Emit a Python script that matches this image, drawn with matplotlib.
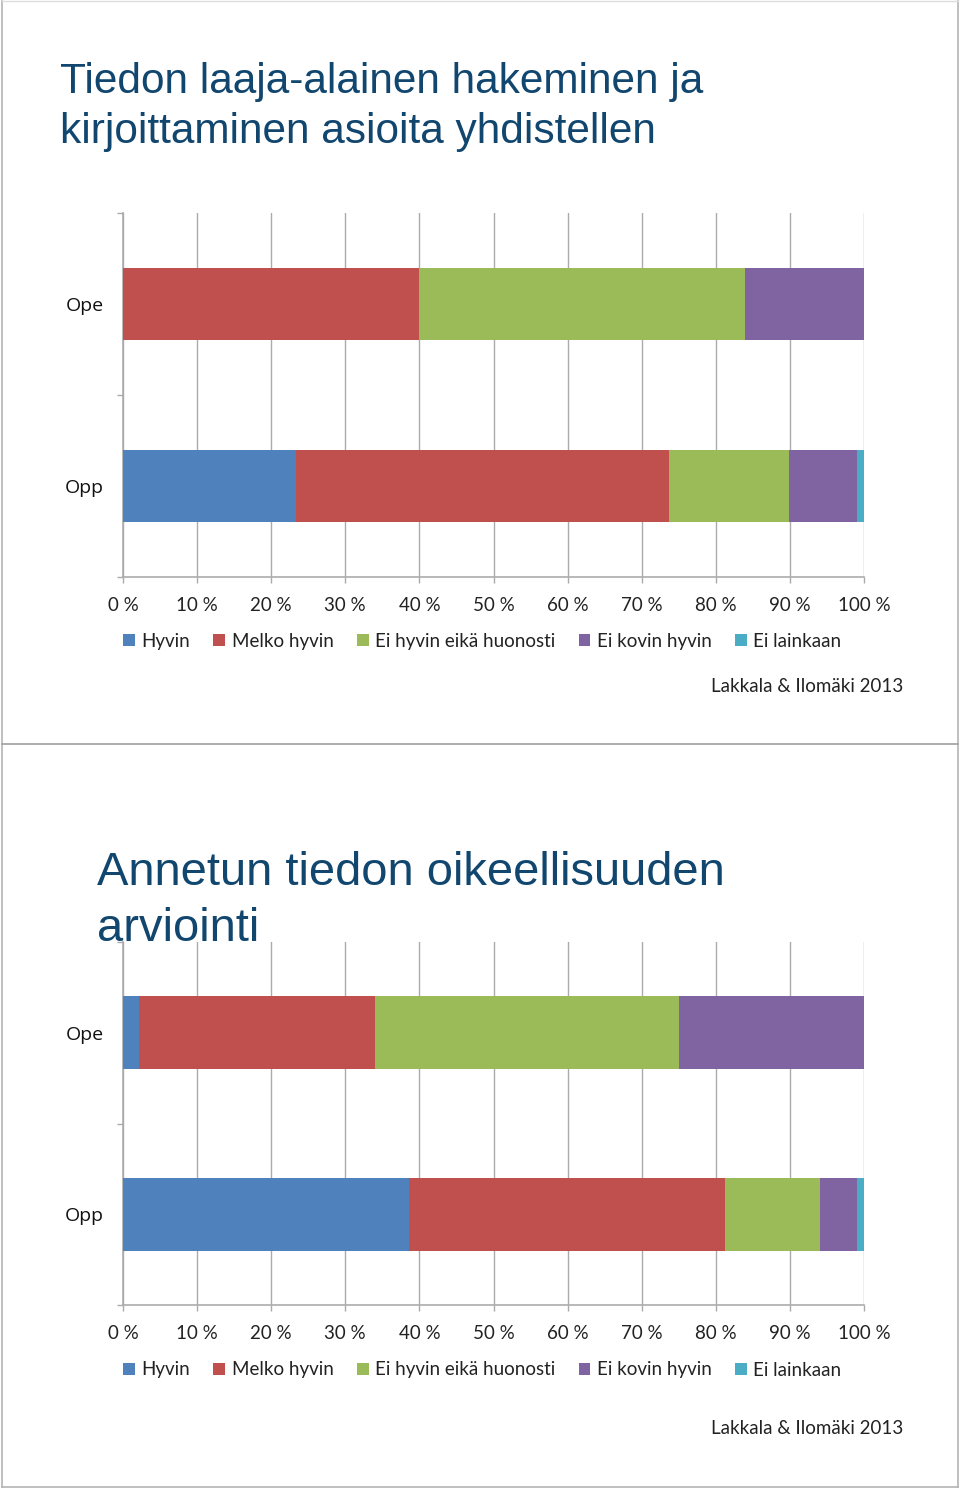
import matplotlib
matplotlib.use("Agg")
import matplotlib.pyplot as plt
from matplotlib.lines import Line2D
import numpy as np

# ---------------- data ----------------
categories = ["Opp", "Ope"]  # bottom to top
series_names = ["Hyvin", "Melko hyvin", "Ei hyvin eikä huonosti", "Ei kovin hyvin", "Ei lainkaan"]
colors = ["#4F81BD", "#C0504D", "#9BBB59", "#8064A2", "#4BACC6"]

# chart 1: Tiedon laaja-alainen hakeminen ja kirjoittaminen asioita yhdistellen
c1_hyvin = [23.3, 0.0]
c1_melko = [50.4, 40.0]
c1_eihyvin = [16.2, 44.0]
c1_eikovin = [9.1, 16.0]
c1_eilainkaan = [1.0, 0.0]

# chart 2: Annetun tiedon oikeellisuuden arviointi
c2_hyvin = [38.6, 2.1]
c2_melko = [42.6, 31.9]
c2_eihyvin = [12.9, 41.0]
c2_eikovin = [4.9, 25.0]
c2_eilainkaan = [1.0, 0.0]

xticks = [0, 10, 20, 30, 40, 50, 60, 70, 80, 90, 100]
xticklabels = ["0 %", "10 %", "20 %", "30 %", "40 %", "50 %", "60 %", "70 %", "80 %", "90 %", "100 %"]

title1 = "Tiedon laaja-alainen hakeminen ja\nkirjoittaminen asioita yhdistellen"
title2 = "Annetun tiedon oikeellisuuden\narviointi"
source = "Lakkala & Ilomäki 2013"

# ---------------- figure ----------------
W, H = 960, 1489
fig = plt.figure(figsize=(W / 100, H / 100), dpi=100)
fig.patch.set_facecolor("white")

GRID = "#ABABAB"
TITLE_C = "#11466F"
FONT = ["Lato", "DejaVu Sans"]
CATFONT = ["Open Sans", "DejaVu Sans"]


def fx(px):
    return px / W


def fy(py):
    return 1 - py / H


# slide borders
border_kw = dict(color="#B4B4B4", lw=1.2, transform=fig.transFigure)
fig.add_artist(Line2D([fx(2), fx(2)], [fy(1), fy(1487)], **border_kw))
fig.add_artist(Line2D([fx(958), fx(958)], [fy(1), fy(1487)], **border_kw))
fig.add_artist(Line2D([fx(2), fx(958)], [fy(1), fy(1)], color="#DDDDDD", lw=1.0, transform=fig.transFigure))
fig.add_artist(Line2D([fx(2), fx(958)], [fy(1487), fy(1487)], **border_kw))
fig.add_artist(Line2D([fx(2), fx(958)], [fy(744), fy(744)], color="#A0A0A0", lw=1.2, transform=fig.transFigure))


def draw_chart(top_px, bot_px, data, legend_y, source_y):
    ax = fig.add_axes([fx(123), fy(bot_px), fx(864) - fx(123), (bot_px - top_px) / H])
    y = np.arange(len(categories))
    left = np.zeros(len(categories))
    handles = []
    for name, vals, col in zip(series_names, data, colors):
        vals = np.array(vals)
        b = ax.barh(y, vals, left=left, height=0.4, color=col, edgecolor="none", zorder=3, label=name)
        handles.append(b)
        left = left + vals
    ax.set_xlim(0, 100)
    ax.set_ylim(-0.5, 1.5)
    ax.set_xticks(xticks)
    ax.set_xticklabels(xticklabels, fontsize=13.5, family=FONT, color="#222222")
    ax.set_yticks(y)
    ax.set_yticklabels(categories, fontsize=14, family=CATFONT, color="#111111")
    ax.set_yticks([-0.5, 0.5, 1.5], minor=True)
    ax.tick_params(axis="y", which="major", length=0, pad=14)
    ax.tick_params(axis="y", which="minor", length=4.3, width=1, color=GRID, direction="out")
    ax.tick_params(axis="x", which="major", length=4.3, width=1, color=GRID, direction="out", pad=10)
    ax.grid(axis="x", color=GRID, lw=1, zorder=0)
    for s in ["top", "right"]:
        ax.spines[s].set_visible(False)
    for s in ["left", "bottom"]:
        ax.spines[s].set_color(GRID)
        ax.spines[s].set_linewidth(1.2)
    ax.set_facecolor("none")

    leg = fig.legend(handles, series_names, ncol=5, loc="center left",
                     bbox_to_anchor=(fx(123), fy(legend_y)), frameon=False,
                     prop={"family": FONT, "size": 13.5},
                     handlelength=0.62, handleheight=0.62, handletextpad=0.35,
                     columnspacing=1.25, borderaxespad=0, borderpad=0)
    for t in leg.get_texts():
        t.set_color("#222222")
    fig.text(fx(903), fy(source_y), source, ha="right", va="center",
             fontsize=13.5, family=FONT, color="#222222")
    return ax


draw_chart(213, 577,
           [c1_hyvin, c1_melko, c1_eihyvin, c1_eikovin, c1_eilainkaan],
           641, 686)
draw_chart(942, 1305,
           [c2_hyvin, c2_melko, c2_eihyvin, c2_eikovin, c2_eilainkaan],
           1370, 1429)

fig.text(fx(60), fy(143), title1, ha="left", va="baseline", fontsize=30.5,
         family=["Liberation Sans", "DejaVu Sans"], color=TITLE_C, linespacing=1.32)
fig.text(fx(97), fy(941), title2, ha="left", va="baseline", fontsize=33.9,
         family=["Liberation Sans", "DejaVu Sans"], color=TITLE_C, linespacing=1.35, zorder=10)

fig.savefig("out.png", dpi=100, facecolor="white")
